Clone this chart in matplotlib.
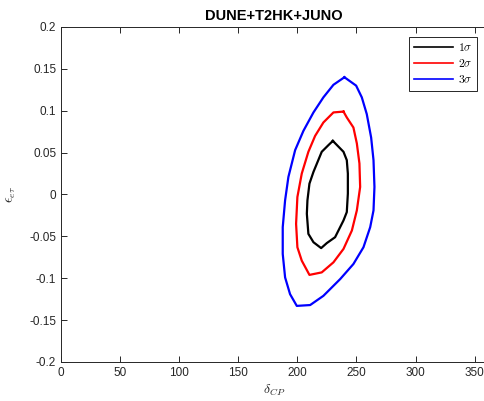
import numpy as np
import matplotlib
matplotlib.use('Agg')
import matplotlib.pyplot as plt

# contour points (delta_CP in degrees, eps_etau)
one_sigma_x = [230.0, 239.0, 241.8, 242.7, 242.7, 241.8, 239.0, 231.9, 224.9, 220.1,
               213.6, 209.3, 208.0, 208.5, 210.2, 213.6, 220.6, 226.3]
one_sigma_y = [0.064, 0.051, 0.041, 0.025, 0.001, -0.021, -0.031, -0.051, -0.058, -0.064,
               -0.057, -0.047, -0.023, -0.007, 0.013, 0.027, 0.051, 0.059]

two_sigma_x = [239.0, 230.5, 222.0, 215.0, 209.3, 203.7, 200.0, 198.9, 200.0, 203.7,
               210.2, 220.6, 230.5, 239.0, 246.1, 250.3, 253.1, 252.5, 250.3, 247.4, 241.8]
two_sigma_y = [0.099, 0.098, 0.086, 0.070, 0.051, 0.025, -0.003, -0.035, -0.063, -0.079,
               -0.096, -0.093, -0.081, -0.065, -0.043, -0.019, 0.009, 0.037, 0.061, 0.080, 0.092]

three_sigma_x = [239.8, 249.7, 254.5, 258.7, 262.4, 264.4, 265.2, 264.4, 261.6, 255.9,
                 247.4, 236.2, 222.0, 210.8, 199.5, 193.8, 189.6, 187.6, 187.6, 189.6,
                 192.4, 198.1, 205.1, 213.6, 222.0, 230.5]
three_sigma_y = [0.140, 0.130, 0.116, 0.096, 0.068, 0.041, 0.009, -0.019, -0.039, -0.063,
                 -0.083, -0.101, -0.121, -0.132, -0.133, -0.119, -0.099, -0.071, -0.039, -0.007,
                 0.021, 0.053, 0.076, 0.098, 0.116, 0.131]

x_ticks = [0, 50, 100, 150, 200, 250, 300, 350]
y_ticks = [-0.2, -0.15, -0.1, -0.05, 0, 0.05, 0.1, 0.15, 0.2]
y_tick_labels = ['-0.2', '-0.15', '-0.1', '-0.05', '0', '0.05', '0.1', '0.15', '0.2']

plt.rcParams['font.family'] = ['Liberation Sans', 'DejaVu Sans']
plt.rcParams['mathtext.fontset'] = 'cm'

fig = plt.figure(figsize=(4.85, 4.01), dpi=100)
# axes run a bit past the right edge of the picture, like the cropped original
ax = fig.add_axes([61 / 485, 39 / 401, 425.5 / 485, 335 / 401])

contours = [
    (one_sigma_x, one_sigma_y, 'black', r'$1\sigma$'),
    (two_sigma_x, two_sigma_y, 'red', r'$2\sigma$'),
    (three_sigma_x, three_sigma_y, 'blue', r'$3\sigma$'),
]
for xs, ys, color, label in contours:
    # close the loop
    xs = np.append(xs, xs[0])
    ys = np.append(ys, ys[0])
    ax.plot(xs, ys, color=color, linewidth=1.6, label=label)

ax.set_xlim(0, 360)
ax.set_ylim(-0.2, 0.2)
ax.set_xticks(x_ticks)
ax.set_yticks(y_ticks)
ax.set_yticklabels(y_tick_labels)

gray = '#262626'
for side in ax.spines:
    ax.spines[side].set_color(gray)
    ax.spines[side].set_linewidth(0.7)
# right edge is cut off in the original
ax.spines['right'].set_visible(False)
ax.tick_params(direction='in', top=True, right=False, length=4, width=0.7,
               colors=gray, labelsize=8.5, labelcolor=gray)

ax.set_title('DUNE+T2HK+JUNO', fontsize=10.5, fontweight='bold', pad=5)
ax.set_xlabel(r'$\delta_{CP}$', fontsize=10, color=gray, labelpad=3)
ax.set_ylabel(r'$\epsilon_{e\tau}$', fontsize=10, color=gray, labelpad=8)

leg = ax.legend(loc='upper right', bbox_to_anchor=(0.978, 0.970), borderaxespad=0,
                fontsize=8.5, handlelength=3.3, handletextpad=0.4, labelspacing=0.35,
                fancybox=False, framealpha=1, edgecolor=gray, borderpad=0.4)
leg.get_frame().set_linewidth(0.7)
for line in leg.get_lines():
    line.set_linewidth(1.2)

plt.savefig('out.png', dpi=100)
